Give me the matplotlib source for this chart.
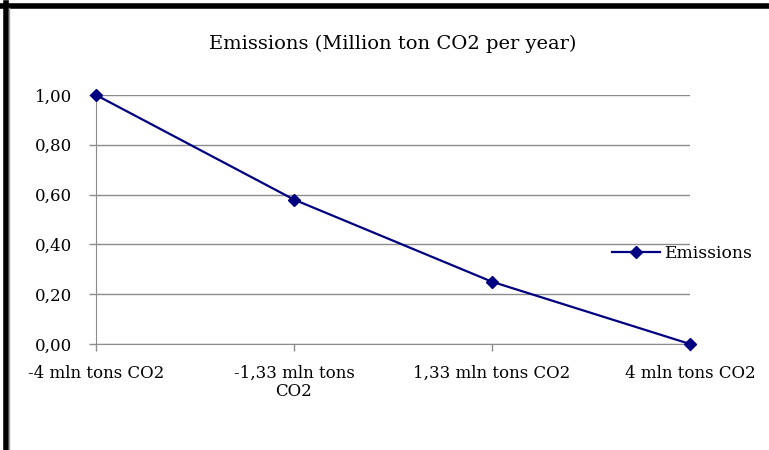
import numpy as np
import matplotlib.pyplot as plt
from matplotlib.lines import Line2D

# dados
categorias = ["-4 mln tons CO2", "-1,33 mln tons\nCO2", "1,33 mln tons CO2", "4 mln tons CO2"]
emissoes = [1.00, 0.58, 0.25, 0.00]
y_ticks = [0.0, 0.2, 0.4, 0.6, 0.8, 1.0]
y_labels = ["0,00", "0,20", "0,40", "0,60", "0,80", "1,00"]

plt.rcParams['font.family'] = ['DejaVu Serif']

W, H = 769, 450
fig = plt.figure(figsize=(W / 100, H / 100), dpi=100)

ax = fig.add_axes([96 / W, (H - 344) / H, (690 - 96) / W, (344 - 95) / H])
x = np.arange(len(categorias))
ax.plot(x, emissoes, color="#000080", lw=1.6, marker="D", markersize=6.5,
        label="Emissions", clip_on=False, zorder=3)

ax.set_xlim(0, len(categorias) - 1)
ax.set_ylim(0, 1.0)
ax.set_yticks(y_ticks)
ax.set_yticklabels(y_labels, fontsize=12)
ax.set_xticks(x)
ax.set_xticklabels(categorias, fontsize=12, linespacing=1.1)
ax.grid(axis="y", color="#8c8c8c", lw=1)
ax.set_axisbelow(True)
for s in ["top", "right"]:
    ax.spines[s].set_visible(False)
for s in ["left", "bottom"]:
    ax.spines[s].set_color("#8c8c8c")
ax.tick_params(axis="both", color="#8c8c8c", length=5, width=1)
ax.tick_params(axis="y", pad=12)
ax.tick_params(axis="x", pad=10)

ax.set_title("Emissions (Million ton CO2 per year)", fontsize=14, pad=33)

fig.legend(*ax.get_legend_handles_labels(), loc="center left",
           bbox_to_anchor=(612 / W, 1 - 253 / H), frameon=False,
           fontsize=12.3, handlelength=2.8, handletextpad=0.25, borderaxespad=0,
           borderpad=0)

# moldura preta (recorte da pagina)
fig.add_artist(Line2D([0, 1], [1 - 5.5 / H, 1 - 5.5 / H], color="black", lw=4))
fig.add_artist(Line2D([5.5 / W, 5.5 / W], [0, 1 - 3 / H], color="black", lw=4))
fig.add_artist(Line2D([9 / W, 9 / W], [0, 1 - 8 / H], color="#a0a0a0", lw=1))

fig.savefig("out.png", dpi=100)
